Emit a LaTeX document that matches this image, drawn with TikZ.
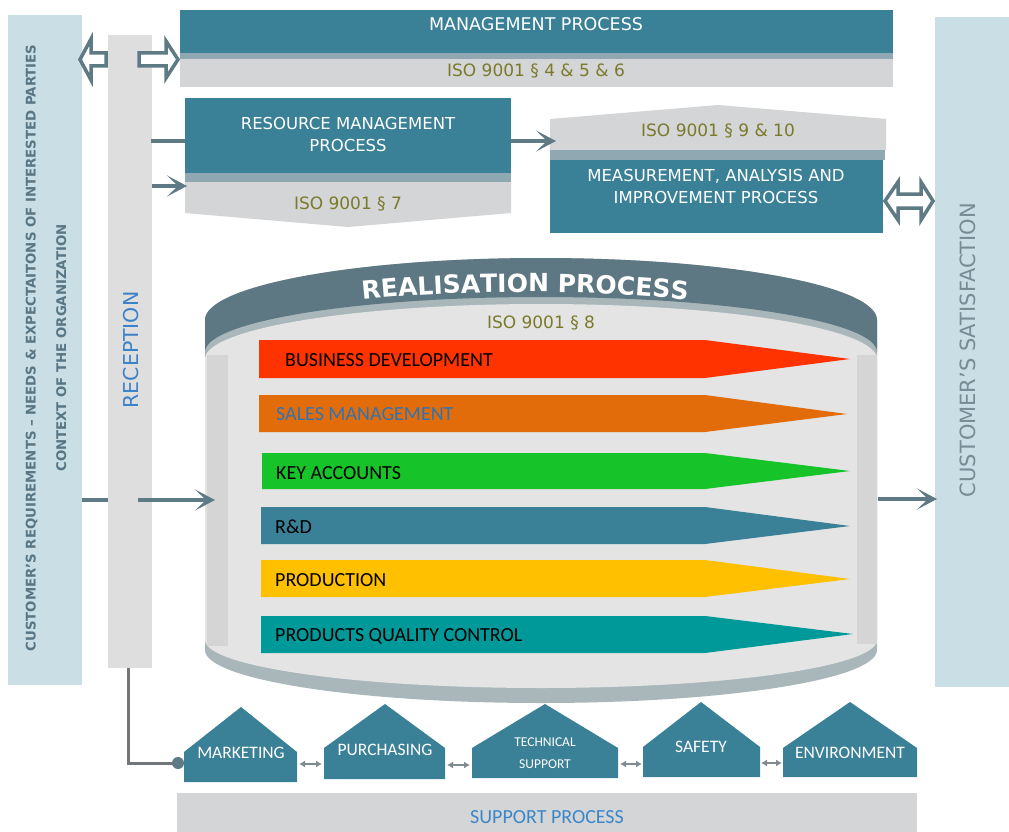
\documentclass[tikz,border=0pt]{standalone}
\usepackage{fontspec}
\setmainfont{DejaVu Sans}
\newfontfamily\calib{Carlito}
\usetikzlibrary{arrows.meta,decorations.text}
\definecolor{teal1}{RGB}{58,128,150}
\definecolor{band}{RGB}{143,168,178}
\definecolor{gray1}{RGB}{212,213,215}
\definecolor{olive}{RGB}{122,122,42}
\definecolor{slate}{RGB}{94,122,133}
\definecolor{lblue}{RGB}{201,222,229}
\definecolor{ltext}{RGB}{88,118,132}
\definecolor{recgray}{RGB}{222,222,222}
\definecolor{recblue}{RGB}{60,130,200}
\definecolor{csattext}{RGB}{120,140,150}
\definecolor{cyldark}{RGB}{94,120,131}
\definecolor{cylrim}{RGB}{169,183,187}
\definecolor{cylin}{RGB}{228,228,228}
\definecolor{cylside}{RGB}{213,213,213}
\definecolor{supblue}{RGB}{59,135,200}
\definecolor{bdred}{RGB}{255,51,0}
\definecolor{smorange}{RGB}{227,108,10}
\definecolor{smtext}{RGB}{46,116,181}
\definecolor{kagreen}{RGB}{22,196,42}
\definecolor{prodyellow}{RGB}{255,192,0}
\definecolor{qcteal}{RGB}{0,153,153}
\definecolor{smallarr}{RGB}{128,138,145}
\definecolor{linkgray}{RGB}{115,118,120}
\newcommand\realfont{\fontsize{25}{29}\selectfont\bfseries}
\tikzset{
  conn/.style={draw=slate, line width=4pt},
  arrhead/.style={-{Stealth[length=20pt,width=21pt,inset=11pt]}},
  hollow/.style={draw=slate, fill=white, line width=3.5pt, line join=miter},
  isotext/.style={text=olive, font=\fontsize{17}{20}\selectfont, inner sep=0pt},
  boxtext/.style={text=white, font=\fontsize{16.5}{22}\selectfont, align=center, inner sep=0pt},
  bartext/.style={font=\calib\fontsize{20}{24}\selectfont, anchor=west, inner sep=0pt},
  housetext/.style={text=white, font=\calib\fontsize{17.5}{21}\selectfont, inner sep=0pt},
  housebox/.style={fill=teal1},
  twoway/.style={draw=smallarr, line width=1.6pt, {Latex[length=6pt,width=7pt]}-{Latex[length=6pt,width=7pt]}},
  link/.style={draw=linkgray, line width=3pt},
}
\begin{document}
\begin{tikzpicture}[x=1pt,y=-1pt]
\useasboundingbox (0,0) rectangle (1009,832);
\fill[white] (0,0) rectangle (1009,832);

% left bar
\fill[lblue] (8,15) rectangle (82,685);
\node[rotate=90, text=ltext, font=\bfseries\fontsize{13.3}{30.5}\selectfont, align=center, inner sep=0pt] (req) at (46,348)
  {CUSTOMER’S REQUIREMENTS – NEEDS \& EXPECTAITONS OF INTERESTED PARTIES\\CONTEXT  OF THE ORGANIZATION};

% reception bar
\fill[recgray] (108,35) rectangle (152,668);
\node[rotate=90, text=recblue, font=\fontsize{20.5}{24}\selectfont, inner sep=0pt] (rec) at (131,350) {RECEPTION};

% right bar
\fill[lblue] (935,17) rectangle (1009,687);
\node[rotate=90, text=csattext, font=\fontsize{21}{24}\selectfont, inner sep=0pt] (csat) at (968,350) {CUSTOMER’S SATISFACTION};

% management process
\fill[teal1] (180,10) rectangle (893,53);
\fill[band] (180,53) rectangle (893,59);
\fill[gray1] (180,59) rectangle (893,87);
\node[boxtext, font=\fontsize{17.5}{22}\selectfont] (mgmt) at (536,24) {MANAGEMENT PROCESS};
\node[isotext] (iso456) at (536,71) {ISO 9001 § 4 \& 5 \& 6};

% resource management
\fill[teal1] (185,98) rectangle (511,173);
\fill[band] (185,173) rectangle (511,182);
\fill[gray1] (185,182) -- (511,182) -- (511,213) -- (348,227) -- (185,213) -- cycle;
\node[boxtext] (res) at (348,134) {RESOURCE MANAGEMENT\\PROCESS};
\node[isotext] (iso7) at (348,204) {ISO 9001 § 7};

% measurement
\fill[gray1] (550,150) -- (550,119) -- (718,105) -- (886,119) -- (886,150) -- cycle;
\fill[band] (550,150) rectangle (885,160);
\fill[teal1] (550,160) rectangle (883,233);
\node[isotext] (iso910) at (718,131) {ISO 9001 § 9 \& 10};
\node[boxtext] (meas) at (716,186) {MEASUREMENT, ANALYSIS AND\\IMPROVEMENT PROCESS};

% hollow arrows
\draw[hollow] (106,53) -- (91,53) -- (91,39) -- (80,59.5) -- (91,80) -- (91,66) -- (106,66) -- cycle;
\draw[hollow] (139,53) -- (166,53) -- (166,41) -- (178,59.5) -- (166,78) -- (166,66) -- (139,66) -- cycle;
\draw[hollow] (885,201) -- (898,182) -- (898,194) -- (921,194) -- (921,182) -- (933,201)
  -- (921,220) -- (921,208) -- (898,208) -- (898,220) -- cycle;

% realisation cylinder
\fill[cylrim] (205,320) arc[start angle=180, end angle=360, x radius=336, y radius=62]
  -- (877,650) arc[start angle=0, end angle=180, x radius=336, y radius=53] -- cycle;
\fill[cylin] (205,359) arc[start angle=180, end angle=360, x radius=336, y radius=55]
  -- (877,640) arc[start angle=0, end angle=180, x radius=336, y radius=48] -- cycle;
\fill[cylside] (207,355) rectangle (228,646);
\fill[cylside] (857,355) rectangle (877,644);
\fill[cyldark] (205,320) arc[start angle=180, end angle=360, x radius=336, y radius=62]
  -- (877,352) arc[start angle=360, end angle=180, x radius=336, y radius=55] -- cycle;
\path[decorate, decoration={text along path, text={|\realfont|REALISATION PROCESS}, text align=center, text color=white}]
  (189,355) arc[start angle=180, end angle=360, x radius=336, y radius=63];
\node[isotext] (iso8) at (541,323) {ISO 9001 § 8};

% process bars
\fill[bdred] (259,340) -- (705,340) -- (850,359) -- (705,378) -- (259,378) -- cycle;
\node[bartext, text=black] (bd) at (285,360) {BUSINESS DEVELOPMENT};
\fill[smorange] (259,395) -- (705,395) -- (847,414) -- (705,432) -- (259,432) -- cycle;
\node[bartext, text=smtext] (sm) at (276,414) {SALES MANAGEMENT};
\fill[kagreen] (262,453) -- (705,453) -- (850,471) -- (705,489) -- (262,489) -- cycle;
\node[bartext, text=black] (ka) at (276,473) {KEY ACCOUNTS};
\fill[teal1] (261,507) -- (705,507) -- (850,526) -- (705,544) -- (261,544) -- cycle;
\node[bartext, text=black] (rd) at (275,527) {R\&D};
\fill[prodyellow] (261,560) -- (705,560) -- (850,579) -- (705,597) -- (261,597) -- cycle;
\node[bartext, text=black] (prod) at (275,580) {PRODUCTION};
\fill[qcteal] (261,616) -- (705,616) -- (853,634) -- (705,653) -- (261,653) -- cycle;
\node[bartext, text=black] (qc) at (275,636) {PRODUCTS QUALITY CONTROL};

% connectors
\coordinate (reqR) at (82,500);
\coordinate (recL) at (108,500);
\coordinate (recA) at (138,500);
\coordinate (cylL) at (215,500);
\coordinate (cylR) at (878,499);
\coordinate (csatL) at (937,499);
\coordinate (recR1) at (151,141);
\coordinate (resL1) at (185,141);
\coordinate (recR2) at (152,186);
\coordinate (resL2) at (187,186);
\coordinate (resR) at (511,141);
\coordinate (measL) at (556,141);
\draw[conn] (reqR) -- (recL);
\draw[conn, arrhead] (recA) -- (cylL);
\draw[conn, arrhead] (cylR) -- (csatL);
\draw[conn] (recR1) -- (resL1);
\draw[conn, arrhead] (recR2) -- (resL2);
\draw[conn, arrhead] (resR) -- (measL);

% support houses
\fill[housebox] (184,782) -- (184,752) -- (241,707) -- (297,752) -- (297,782) -- cycle;
\node[housetext] (mkt) at (241,753) {MARKETING};
\fill[housebox] (324,779) -- (324,748) -- (385,704) -- (445,748) -- (445,779) -- cycle;
\node[housetext] (pur) at (385,750) {PURCHASING};
\fill[housebox] (472,778) -- (472,748) -- (545,704) -- (618,748) -- (618,778) -- cycle;
\node[housetext, font=\calib\fontsize{13.5}{22}\selectfont, align=center] (tech) at (545,753) {TECHNICAL\\SUPPORT};
\fill[housebox] (643,777) -- (643,747) -- (701,702) -- (760,747) -- (760,777) -- cycle;
\node[housetext] (saf) at (701,747) {SAFETY};
\fill[housebox] (783,777) -- (783,748) -- (850,702) -- (917,748) -- (917,777) -- cycle;
\node[housetext] (env) at (850,753) {ENVIRONMENT};

\coordinate (h1R) at (299,764); \coordinate (h2L) at (322,764);
\coordinate (h2R) at (447,765); \coordinate (h3L) at (470,765);
\coordinate (h3R) at (620,764); \coordinate (h4L) at (642,764);
\coordinate (h4R) at (761,763); \coordinate (h5L) at (782,763);
\draw[twoway] (h1R) -- (h2L);
\draw[twoway] (h2R) -- (h3L);
\draw[twoway] (h3R) -- (h4L);
\draw[twoway] (h4R) -- (h5L);

% reception link to marketing
\coordinate (recB) at (128,668);
\coordinate (mkdot) at (178,763);
\draw[link] (recB) -- (recB |- mkdot) -- (mkdot);
\fill[slate] (mkdot) circle[radius=6];

% support process
\fill[gray1] (177,793) rectangle (917,832);
\node[text=supblue, font=\calib\fontsize{20}{24}\selectfont, inner sep=0pt] (sup) at (547,817) {SUPPORT PROCESS};
\end{tikzpicture}
\end{document}
